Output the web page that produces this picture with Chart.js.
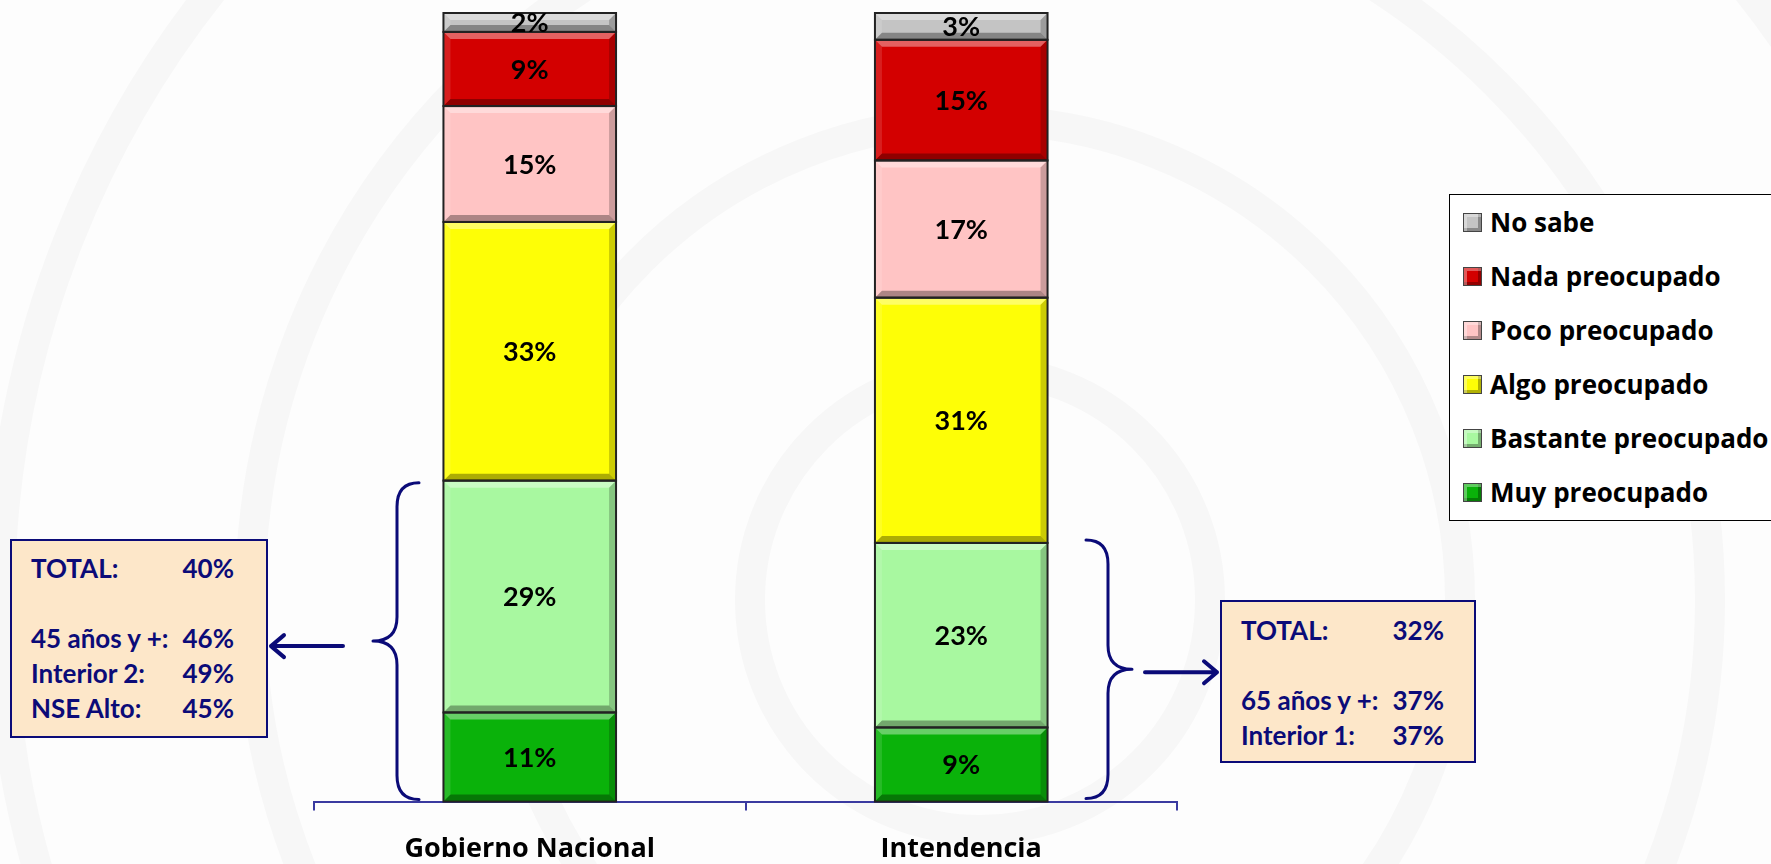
<!DOCTYPE html>
<html>
<head>
<meta charset="utf-8">
<script src="https://cdn.jsdelivr.net/npm/chart.js@4.4.1/dist/chart.umd.min.js"></script>
<style>
body{margin:0;width:1771px;height:864px;overflow:hidden;background:#fdfdfd;position:relative;font-family:Lato,"Noto Sans",sans-serif}
#bg{position:absolute;left:0;top:0}
#chart{position:absolute;left:0;top:0}
.note{position:absolute;background:#fde7c9;border:2px solid #0b0b78;color:#0b0b78;font-weight:bold;font-size:26px;box-sizing:border-box}
.note .row{position:absolute;left:19px;height:30px;line-height:30px;white-space:nowrap}
.note .row span{position:absolute;top:0}
#legend{position:absolute;left:1449px;top:194px;width:340px;height:327px;border:1px solid #000;background:#fff;box-sizing:border-box}
#legend div{height:54px;display:flex;align-items:center;padding-left:13px;font-family:"Open Sans",sans-serif;font-weight:bold;font-size:26px;color:#000;white-space:nowrap}
#legend i{display:inline-block;flex:none;width:17px;height:17px;border:1px solid #444;margin-right:8px;box-shadow:inset 3px 3px 0 rgba(255,255,255,.35),inset -3px -3px 0 rgba(0,0,0,.3)}
</style>
</head>
<body>
<svg id="bg" width="1771" height="864">
  <g fill="none" stroke="#f7f7f7" stroke-width="30">
    <circle cx="980" cy="600" r="230"/>
    <circle cx="980" cy="600" r="480"/>
    <circle cx="980" cy="600" r="730"/>
    <circle cx="980" cy="600" r="980"/>
  </g>
</svg>
<canvas id="chart" width="1771" height="864"></canvas>
<div class="note" id="noteLeft" style="left:10px;top:539px;width:258px;height:199px"></div>
<div class="note" id="noteRight" style="left:1220px;top:600px;width:256px;height:163px"></div>
<div id="legend"></div>
<script>
categories = ["Gobierno Nacional", "Intendencia"]
seriesNames = ["Muy preocupado", "Bastante preocupado", "Algo preocupado", "Poco preocupado", "Nada preocupado", "No sabe"]
muy = [11.3, 9.4]
bastante = [29.4, 23.4]
algo = [32.8, 31.1]
poco = [14.7, 17.4]
nada = [9.4, 15.3]
noSabe = [2.4, 3.4]
colors = ["#0ab20a", "#a8f8a0", "#fefe06", "#ffc4c4", "#d30000", "#c4c4c4"]

noteLeftRows = [["TOTAL:", "40%"], null, ["45 años y +:", "46%"], ["Interior 2:", "49%"], ["NSE Alto:", "45%"]]
noteRightRows = [["TOTAL:", "32%"], null, ["65 años y +:", "37%"], ["Interior 1:", "37%"]]

navy = "#0b0b78"

function fillNote(el, rows, top, step){
  rows.forEach((r, i) => {
    if (!r) return
    var d = document.createElement('div')
    d.className = 'row'
    d.style.top = (top + i * step) + 'px'
    d.innerHTML = '<span style="left:0">' + r[0] + '</span><span style="left:130px;width:73px;text-align:right">' + r[1] + '</span>'
    el.appendChild(d)
  })
}
fillNote(noteLeft, noteLeftRows, 12, 35)
fillNote(noteRight, noteRightRows, 13, 35)

function poly(ctx, pts, color){
  ctx.beginPath()
  ctx.moveTo(pts[0][0], pts[0][1])
  for (var k = 1; k < pts.length; k++) ctx.lineTo(pts[k][0], pts[k][1])
  ctx.closePath()
  ctx.fillStyle = color
  ctx.fill()
}

// bevel look + value labels on every segment
const bevel = {
  id: 'bevel',
  afterDatasetsDraw(chart){
    const ctx = chart.ctx
    ctx.save()
    chart.data.datasets.forEach((ds, i) => {
      chart.getDatasetMeta(i).data.forEach((bar, j) => {
        const p = bar.getProps(['x', 'y', 'base', 'width'], true)
        const l = p.x - p.width / 2, r = p.x + p.width / 2
        const t = Math.min(p.y, p.base), b = Math.max(p.y, p.base)
        const d = Math.min(7, (b - t) / 2)
        poly(ctx, [[l, t], [r, t], [r - d, t + d], [l + d, t + d]], 'rgba(255,255,255,0.38)')
        poly(ctx, [[l, b], [r, b], [r - d, b - d], [l + d, b - d]], 'rgba(0,0,0,0.32)')
        poly(ctx, [[l, t], [l + d, t + d], [l + d, b - d], [l, b]], 'rgba(255,255,255,0.12)')
        poly(ctx, [[r, t], [r - d, t + d], [r - d, b - d], [r, b]], 'rgba(0,0,0,0.2)')
        ctx.strokeStyle = '#222'
        ctx.lineWidth = 2
        ctx.strokeRect(l, t, r - l, b - t)
      })
    })
    chart.data.datasets.forEach((ds, i) => {
      chart.getDatasetMeta(i).data.forEach((bar, j) => {
        const p = bar.getProps(['x', 'y', 'base'], true)
        ctx.fillStyle = '#000'
        ctx.font = 'bold 27px Lato, "Noto Sans", sans-serif'
        ctx.textAlign = 'center'
        ctx.textBaseline = 'middle'
        ctx.fillText(Math.round(ds.data[j]) + '%', p.x, (p.y + p.base) / 2 + 1)
      })
    })
    ctx.restore()
  }
}

// braces and arrows next to the two green segments
const braces = {
  id: 'braces',
  afterDraw(chart){
    const ctx = chart.ctx
    const ys = chart.scales.y
    ctx.save()
    ctx.strokeStyle = navy
    ctx.lineWidth = 3
    ctx.lineCap = 'round'
    ctx.lineJoin = 'round'
    function brace(xv, dir, top, bot){
      // dir -1: "{" tip to the left, dir 1: "}" tip to the right
      const mid = (top + bot) / 2, c = 24, tip = xv + dir * 24, end = xv - dir * 22
      ctx.beginPath()
      ctx.moveTo(end, top)
      ctx.quadraticCurveTo(xv, top, xv, top + c)
      ctx.lineTo(xv, mid - c)
      ctx.quadraticCurveTo(xv, mid, tip, mid)
      ctx.quadraticCurveTo(xv, mid, xv, mid + c)
      ctx.lineTo(xv, bot - c)
      ctx.quadraticCurveTo(xv, bot, end, bot)
      ctx.stroke()
      return mid
    }
    function arrow(x0, x1, y){
      const dir = Math.sign(x1 - x0)
      ctx.lineWidth = 4
      ctx.beginPath()
      ctx.moveTo(x0, y); ctx.lineTo(x1, y)
      ctx.moveTo(x1 - dir * 13, y - 11); ctx.lineTo(x1, y); ctx.lineTo(x1 - dir * 13, y + 11)
      ctx.stroke()
      ctx.lineWidth = 3
    }
    const b0 = ys.getPixelForValue(0)
    const m1 = brace(397, -1, ys.getPixelForValue(muy[0] + bastante[0]) + 2, b0 - 2)
    arrow(343, 271, m1 + 5)
    const m2 = brace(1108, 1, ys.getPixelForValue(muy[1] + bastante[1]) - 3, b0 - 3)
    arrow(1145, 1217, m2 + 3)
    ctx.restore()
  }
}

const datasets = [muy, bastante, algo, poco, nada, noSabe].map((d, i) => ({
  label: seriesNames[i],
  data: d,
  backgroundColor: colors[i],
  borderWidth: 0,
  categoryPercentage: 1,
  barPercentage: 0.4
}))

new Chart(document.getElementById('chart'), {
  type: 'bar',
  data: { labels: categories, datasets: datasets },
  options: {
    responsive: false,
    devicePixelRatio: 1,
    animation: false,
    layout: { padding: { left: 314, right: 594, top: 13, bottom: -25 } },
    plugins: { legend: { display: false }, tooltip: { enabled: false } },
    scales: {
      x: {
        stacked: true,
        border: { color: '#3a3aa0', width: 2 },
        grid: { offset: true, drawOnChartArea: false, color: '#3a3aa0', tickLength: 9, lineWidth: 2 },
        ticks: { color: '#000', padding: 23, font: { family: 'Open Sans', size: 27, weight: 'bold', lineHeight: 1.2 } }
      },
      y: { stacked: true, display: false, min: 0, max: 100 }
    }
  },
  plugins: [bevel, braces]
})

// legend, top to bottom in reverse stacking order
for (var i = seriesNames.length - 1; i >= 0; i--) {
  var it = document.createElement('div')
  it.innerHTML = '<i style="background:' + colors[i] + '"></i>' + seriesNames[i]
  legend.appendChild(it)
}
</script>
</body>
</html>
